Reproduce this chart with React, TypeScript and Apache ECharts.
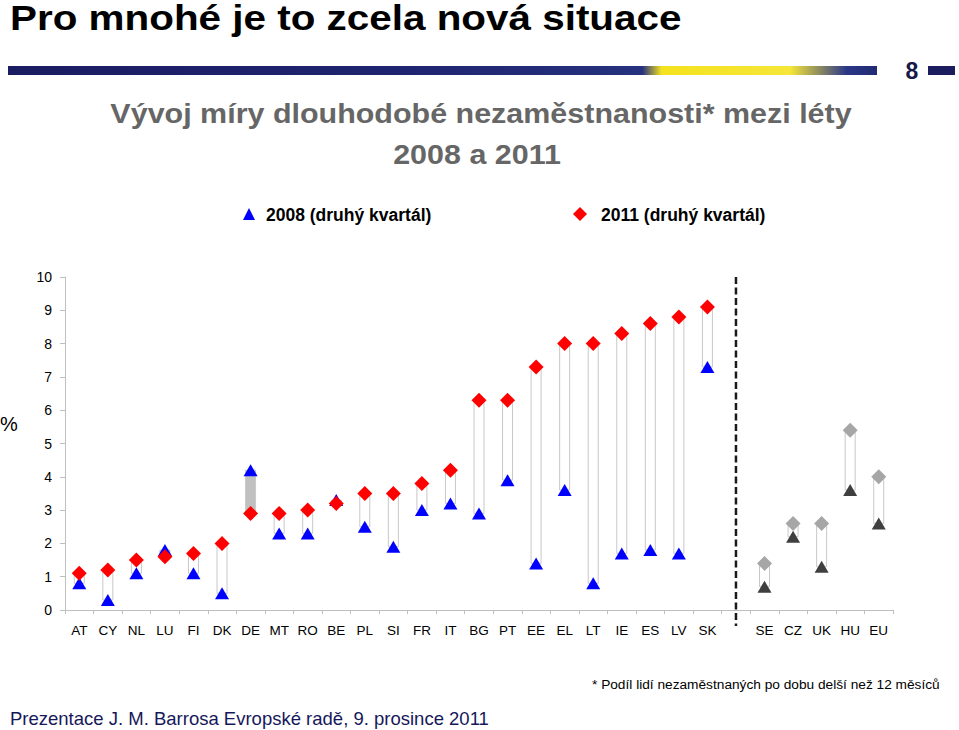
import React, { useEffect, useRef } from 'react';
import * as echarts from 'echarts';

const countries = ['AT', 'CY', 'NL', 'LU', 'FI', 'DK', 'DE', 'MT', 'RO', 'BE', 'PL', 'SI', 'FR', 'IT', 'BG', 'PT', 'EE', 'EL', 'LT', 'IE', 'ES', 'LV', 'SK', '', 'SE', 'CZ', 'UK', 'HU', 'EU'];
const values2008 = [0.8, 0.3, 1.1, 1.8, 1.1, 0.5, 4.2, 2.3, 2.3, 3.3, 2.5, 1.9, 3.0, 3.2, 2.9, 3.9, 1.4, 3.6, 0.8, 1.7, 1.8, 1.7, 7.3, null, 0.7, 2.2, 1.3, 3.6, 2.6];
const values2011 = [1.1, 1.2, 1.5, 1.6, 1.7, 2.0, 2.9, 2.9, 3.0, 3.2, 3.5, 3.5, 3.8, 4.2, 6.3, 6.3, 7.3, 8.0, 8.0, 8.3, 8.6, 8.8, 9.1, null, 1.4, 2.6, 2.6, 5.4, 4.0];
const yMin = 0;
const yMax = 10;
const yInterval = 1;
const dividerIndex = 23;
const greyGroupStart = 24;

const seriesNames = ['2008 (druhý kvartál)', '2011 (druhý kvartál)'];
const pageTitle = 'Pro mnohé je to zcela nová situace';
const chartTitle1 = 'Vývoj míry dlouhodobé nezaměstnanosti* mezi léty';
const chartTitle2 = '2008 a 2011';
const footnote = '* Podíl lidí nezaměstnaných po dobu delší než 12 měsíců';
const footer = 'Prezentace J. M. Barrosa Evropské radě, 9. prosince 2011';
const slideNumber = '8';

const FONT = '"Liberation Sans", Arial, Helvetica, sans-serif';

export default function App() {
  const ref = useRef<HTMLDivElement>(null);
  useEffect(() => {
    if (!ref.current) return;
    const chart = echarts.init(ref.current, undefined, { renderer: 'svg' });

    const barData = countries.map((c, i) =>
      values2008[i] == null ? [i, '-', '-'] : [i, values2008[i], values2011[i]]
    );
    const d2008 = values2008.map((v, i) =>
      v == null ? '-' : i >= greyGroupStart ? { value: v, itemStyle: { color: '#3f3f3f' } } : v
    );
    const d2011 = values2011.map((v, i) =>
      v == null ? '-' : i >= greyGroupStart ? { value: v, itemStyle: { color: '#a6a6a6' } } : v
    );

    const option: any = {
      animation: false,
      backgroundColor: '#ffffff',
      textStyle: { fontFamily: FONT },
      grid: { left: 65, right: 66, top: 277, bottom: 120, containLabel: false },
      xAxis: {
        type: 'category',
        data: countries,
        boundaryGap: true,
        axisLine: { lineStyle: { color: '#bfbfbf', width: 1 } },
        axisTick: { show: true, interval: 0, length: 4, lineStyle: { color: '#bfbfbf' } },
        axisLabel: { interval: 0, color: '#000', fontSize: 13.5, fontFamily: FONT, margin: 13 },
        splitLine: { show: false },
      },
      yAxis: {
        type: 'value',
        min: yMin,
        max: yMax,
        interval: yInterval,
        axisLine: { show: true, lineStyle: { color: '#bfbfbf', width: 1 } },
        axisTick: { show: true, length: 5, lineStyle: { color: '#bfbfbf' } },
        axisLabel: { color: '#000', fontSize: 14, fontFamily: FONT, margin: 13 },
        splitLine: { show: false },
      },
      series: [
        {
          type: 'custom',
          name: 'bars',
          z: 1,
          data: barData,
          encode: { x: 0, y: [1, 2] },
          renderItem: (params: any, api: any) => {
            const i = api.value(0);
            const a = api.value(1);
            const b = api.value(2);
            if (isNaN(a) || isNaN(b)) return null;
            const p1 = api.coord([i, a]);
            const p2 = api.coord([i, b]);
            const w = 10;
            const down = b < a;
            return {
              type: 'rect',
              shape: { x: p1[0] - w / 2, y: Math.min(p1[1], p2[1]), width: w, height: Math.abs(p1[1] - p2[1]) },
              style: { fill: down ? '#c0c0c0' : '#ffffff', stroke: '#c8c8c8', lineWidth: 1 },
            };
          },
        },
        {
          type: 'custom',
          name: 'divider',
          z: 1,
          data: [[dividerIndex]],
          encode: { x: 0 },
          renderItem: (params: any, api: any) => {
            const i = api.value(0);
            const top = api.coord([i, yMax]);
            const bottom = api.coord([i, yMin]);
            return {
              type: 'line',
              shape: { x1: top[0], y1: top[1], x2: bottom[0], y2: bottom[1] + 16 },
              style: { stroke: '#1a1a1a', lineWidth: 2.5, lineDash: [7, 3.5] },
            };
          },
        },
        {
          type: 'scatter',
          name: seriesNames[0],
          z: 2,
          symbol: 'triangle',
          symbolSize: [14, 12],
          itemStyle: { color: '#0000ff', opacity: 1 },
          data: d2008,
        },
        {
          type: 'scatter',
          name: seriesNames[1],
          z: 3,
          symbol: 'diamond',
          symbolSize: [15, 15],
          itemStyle: { color: '#ff0000', opacity: 1 },
          data: d2011,
        },
      ],
      graphic: [
        {
          type: 'text',
          x: 10,
          y: 18,
          scaleX: 1.155,
          style: { text: pageTitle, fill: '#000', font: `bold 35px ${FONT}`, textAlign: 'left', textVerticalAlign: 'middle' },
        },
        {
          type: 'rect',
          shape: { x: 8, y: 66, width: 869, height: 9 },
          style: {
            fill: new echarts.graphic.LinearGradient(0, 0, 1, 0, [
              { offset: 0, color: '#1b1d62' },
              { offset: 0.45, color: '#1f2470' },
              { offset: 0.73, color: '#26327f' },
              { offset: 0.752, color: '#f4e21e' },
              { offset: 0.9, color: '#f6e638' },
              { offset: 0.965, color: '#2b3787' },
              { offset: 1, color: '#222a72' },
            ]),
          },
        },
        {
          type: 'text',
          x: 912,
          y: 71,
          style: { text: slideNumber, fill: '#151848', font: `bold 23px ${FONT}`, textAlign: 'center', textVerticalAlign: 'middle' },
        },
        {
          type: 'rect',
          shape: { x: 928, y: 66, width: 27, height: 9 },
          style: { fill: '#1b1d5e' },
        },
        {
          type: 'text',
          x: 481,
          y: 113,
          scaleX: 1.088,
          style: { text: chartTitle1, fill: '#666666', font: `bold 28px ${FONT}`, textAlign: 'center', textVerticalAlign: 'middle' },
        },
        {
          type: 'text',
          x: 477,
          y: 154,
          scaleX: 1.088,
          style: { text: chartTitle2, fill: '#666666', font: `bold 28px ${FONT}`, textAlign: 'center', textVerticalAlign: 'middle' },
        },
        {
          type: 'polygon',
          shape: { points: [[243, 220], [255, 220], [249, 208]] },
          style: { fill: '#0000ff' },
        },
        {
          type: 'text',
          x: 266,
          y: 214.5,
          style: { text: seriesNames[0], fill: '#000', font: `bold 17.5px ${FONT}`, textAlign: 'left', textVerticalAlign: 'middle' },
        },
        {
          type: 'polygon',
          shape: { points: [[580, 207], [587, 214], [580, 221], [573, 214]] },
          style: { fill: '#ff0000' },
        },
        {
          type: 'text',
          x: 601,
          y: 214.5,
          style: { text: seriesNames[1], fill: '#000', font: `bold 17.5px ${FONT}`, textAlign: 'left', textVerticalAlign: 'middle' },
        },
        {
          type: 'text',
          x: 0,
          y: 424,
          style: { text: '%', fill: '#000', font: `20px ${FONT}`, textAlign: 'left', textVerticalAlign: 'middle' },
        },
        {
          type: 'text',
          x: 592,
          y: 684,
          style: { text: footnote, fill: '#000', font: `13.7px ${FONT}`, textAlign: 'left', textVerticalAlign: 'middle' },
        },
        {
          type: 'text',
          x: 10,
          y: 718,
          style: { text: footer, fill: '#16185a', font: `18.5px ${FONT}`, textAlign: 'left', textVerticalAlign: 'middle' },
        },
      ],
    };
    chart.setOption(option);
    return () => chart.dispose();
  }, []);
  return <div ref={ref} style={{ position: 'absolute', left: 0, top: 0, width: 959, height: 730 }} />;
}
